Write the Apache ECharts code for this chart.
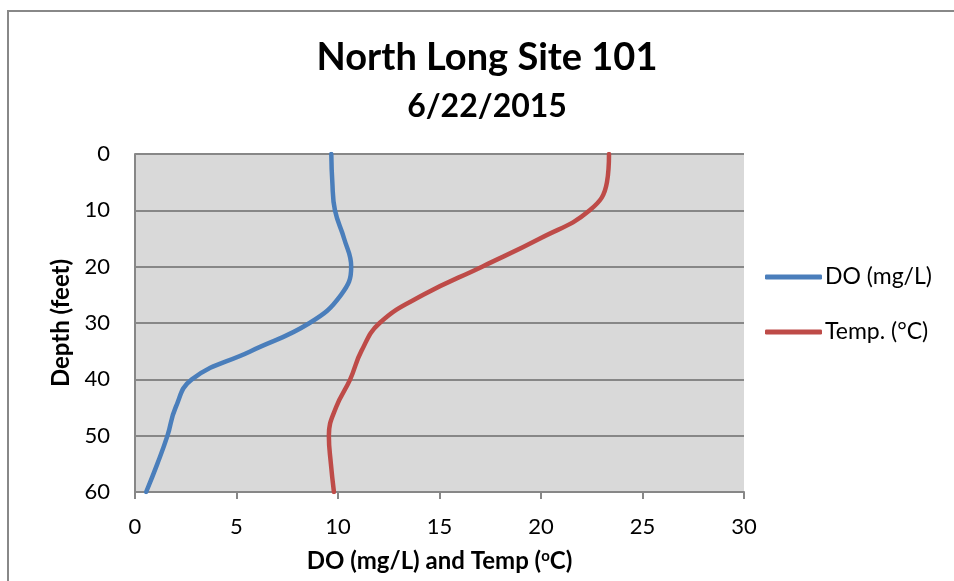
<!DOCTYPE html>
<html>
<head>
<meta charset="utf-8">
<script src="https://cdn.jsdelivr.net/npm/echarts@6/dist/echarts.min.js"></script>
<style>html,body{margin:0;padding:0;background:#fff;overflow:hidden;}#c{width:954px;height:581px;}</style>
</head>
<body>
<div id="c"></div>
<script>
var depths = [0, 5, 10, 15, 20, 25, 30, 35, 40, 45, 50, 55, 60];
var doValues = [9.67, 9.72, 9.85, 10.3, 10.65, 10.15, 8.6, 5.7, 2.8, 2.0, 1.6, 1.1, 0.55];
var tempValues = [23.35, 23.25, 22.4, 19.95, 17.1, 14.2, 12.05, 11.15, 10.6, 9.9, 9.55, 9.65, 9.8];
var seriesNames = ['DO (mg/L)', 'Temp. (°C)'];
var titleText = 'North Long Site 101';
var subtitleText = '6/22/2015';

function pairs(vals) { return vals.map(function (v, i) { return [v, depths[i]]; }); }

var FONT = 'Lato, "Open Sans", sans-serif';
var chart = echarts.init(document.getElementById('c'));
chart.setOption({
  animation: false,
  textStyle: { fontFamily: FONT },
  graphic: [
    { type: 'polyline', shape: { points: [[8, 1200], [8, 11], [1200, 11]] },
      style: { fill: 'none', stroke: '#888', lineWidth: 2 }, z: -10, silent: true }
  ],
  title: [
    { text: titleText, left: 487, textAlign: 'center', top: 39, padding: 0,
      textStyle: { fontSize: 38, fontWeight: 'bold', color: '#000', fontFamily: FONT } },
    { text: subtitleText, left: 487, textAlign: 'center', top: 91, padding: 0,
      textStyle: { fontSize: 32, fontWeight: 'bold', color: '#000', fontFamily: FONT } }
  ],
  legend: {
    orient: 'vertical', left: 765, top: 265, itemGap: 31, padding: 0,
    itemWidth: 57, itemHeight: 5, icon: 'roundRect',
    textStyle: { fontSize: 23, lineHeight: 24, color: '#000', fontFamily: FONT, padding: [0, 0, 0, -2] },
    data: seriesNames
  },
  grid: { left: 135, top: 154, right: 210, bottom: 89, show: true, backgroundColor: '#d9d9d9', borderWidth: 0, containLabel: false },
  xAxis: {
    type: 'value', min: 0, max: 30, interval: 5,
    name: 'DO (mg/L) and Temp ({sup|o}C)', nameLocation: 'middle', nameGap: 57,
    nameTextStyle: { fontSize: 24, fontWeight: 'bold', color: '#000', fontFamily: FONT,
      rich: { sup: { fontSize: 15, fontWeight: 'bold', verticalAlign: 'top', padding: [0, 0, 9, 0], fontFamily: FONT } } },
    axisLine: { show: true, onZero: false, lineStyle: { color: '#878787', width: 2 } },
    axisTick: { show: true, length: 7, lineStyle: { color: '#878787', width: 2 } },
    axisLabel: { fontSize: 22, color: '#000', margin: 24, fontFamily: FONT },
    splitLine: { show: false }
  },
  yAxis: {
    type: 'value', min: 0, max: 60, interval: 10, inverse: true,
    name: 'Depth (feet)', nameLocation: 'middle', nameGap: 59,
    nameTextStyle: { fontSize: 24, fontWeight: 'bold', color: '#000', fontFamily: FONT },
    axisLine: { show: true, onZero: false, lineStyle: { color: '#878787', width: 2 } },
    axisTick: { show: false },
    axisLabel: { fontSize: 22, color: '#000', margin: 25, fontFamily: FONT },
    splitLine: { show: true, lineStyle: { color: '#878787', width: 2 } }
  },
  series: [
    { name: seriesNames[0], type: 'line', data: pairs(doValues), smooth: 0.45, symbol: 'none',
      lineStyle: { color: '#4a7ebb', width: 4.5, cap: 'round' }, itemStyle: { color: '#4a7ebb' } },
    { name: seriesNames[1], type: 'line', data: pairs(tempValues), smooth: 0.45, symbol: 'none',
      lineStyle: { color: '#be4b48', width: 4.5, cap: 'round' }, itemStyle: { color: '#be4b48' } }
  ]
});
</script>
</body>
</html>
